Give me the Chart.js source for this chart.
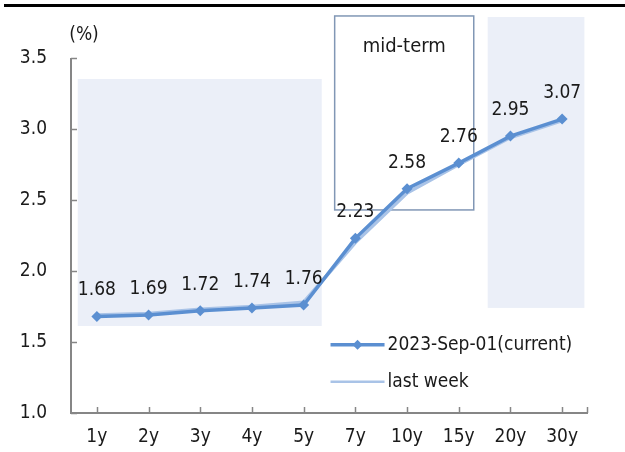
<!DOCTYPE html>
<html>
<head>
<meta charset="utf-8">
<script src="https://cdn.jsdelivr.net/npm/chart.js@4"></script>
<style>
  html, body { margin: 0; padding: 0; background: #fff; }
  #wrap { position: relative; width: 625px; height: 452px; }
  #topline { position: absolute; left: 4px; right: 0; top: 4px; height: 3px; background: #000; }
</style>
</head>
<body>
<div id="wrap">
  <canvas id="c" width="625" height="452"></canvas>
  <div id="topline"></div>
</div>
<script>
const categories = ['1y', '2y', '3y', '4y', '5y', '7y', '10y', '15y', '20y', '30y'];
const currentValues = [1.68, 1.69, 1.72, 1.74, 1.76, 2.23, 2.58, 2.76, 2.95, 3.07];
const lastWeekValues = [1.69, 1.70, 1.73, 1.75, 1.78, 2.20, 2.55, 2.75, 2.94, 3.06];
const currentLabel = '2023-Sep-01(current)';
const lastWeekLabel = 'last week';
const yTicks = [1.0, 1.5, 2.0, 2.5, 3.0, 3.5];
const unitLabel = '(%)';
const boxLabel = 'mid-term';

const FONT = '"DejaVu Sans Condensed", "Liberation Sans", sans-serif';
const TXT = '#1a1a1a';
const AXIS = '#868686';
const C_CUR = '#5B8FD1';
const C_LW = '#A9C3E7';
const SHADE = '#EBEFF8';

const decor = {
  id: 'decor',
  beforeDatasetsDraw(chart) {
    const ctx = chart.ctx, x = chart.scales.x, y = chart.scales.y;
    ctx.save();
    ctx.fillStyle = SHADE;
    let x0 = x.getPixelForValue(-0.37), x1 = x.getPixelForValue(4.35);
    let y0 = y.getPixelForValue(3.352), y1 = y.getPixelForValue(1.613);
    ctx.fillRect(x0, y0, x1 - x0, y1 - y0);
    x0 = x.getPixelForValue(7.56); x1 = x.getPixelForValue(9.43);
    y0 = y.getPixelForValue(3.789); y1 = y.getPixelForValue(1.74);
    ctx.fillRect(x0, y0, x1 - x0, y1 - y0);
    x0 = x.getPixelForValue(4.60); x1 = x.getPixelForValue(7.29);
    y0 = y.getPixelForValue(3.796); y1 = y.getPixelForValue(2.43);
    ctx.strokeStyle = '#8197B5';
    ctx.lineWidth = 1.5;
    ctx.strokeRect(x0, y0, x1 - x0, y1 - y0);
    ctx.fillStyle = TXT;
    ctx.font = '20px ' + FONT;
    ctx.textAlign = 'center';
    ctx.textBaseline = 'middle';
    ctx.fillText(boxLabel, (x0 + x1) / 2, y0 + 31);

    const ca = chart.chartArea;
    ctx.strokeStyle = AXIS;
    ctx.lineWidth = 2;
    ctx.beginPath();
    ctx.moveTo(ca.left, ca.top);
    ctx.lineTo(ca.left, ca.bottom);
    ctx.lineTo(ca.right, ca.bottom);
    ctx.stroke();
    ctx.lineWidth = 1.5;
    ctx.beginPath();
    yTicks.forEach(v => {
      const py = Math.round(y.getPixelForValue(v)) + 0.5;
      ctx.moveTo(ca.left, py); ctx.lineTo(ca.left + 6, py);
    });
    categories.forEach((c, i) => {
      const px = Math.round(x.getPixelForValue(i)) + 0.5;
      ctx.moveTo(px, ca.bottom); ctx.lineTo(px, ca.bottom - 6);
    });
    ctx.moveTo(ca.right - 0.5, ca.bottom); ctx.lineTo(ca.right - 0.5, ca.bottom - 6);
    ctx.stroke();

    ctx.fillStyle = TXT;
    ctx.font = '19px ' + FONT;
    ctx.textAlign = 'center';
    ctx.fillText(unitLabel, ca.left + 13, ca.top - 23);
    ctx.restore();
  },
  afterDatasetsDraw(chart) {
    const ctx = chart.ctx, x = chart.scales.x, y = chart.scales.y;
    ctx.save();
    ctx.fillStyle = TXT;
    ctx.font = '19px ' + FONT;
    ctx.textAlign = 'center';
    ctx.textBaseline = 'middle';
    currentValues.forEach((v, i) => {
      ctx.fillText(v.toFixed(2), x.getPixelForValue(i), y.getPixelForValue(v) - 26);
    });
    const lx0 = x.getPixelForValue(4.52), lx1 = lx0 + 54;
    const ly1 = y.getPixelForValue(1.48), ly2 = y.getPixelForValue(1.22);
    ctx.lineCap = 'butt';
    ctx.strokeStyle = C_CUR; ctx.lineWidth = 3.5;
    ctx.beginPath(); ctx.moveTo(lx0, ly1); ctx.lineTo(lx1, ly1); ctx.stroke();
    ctx.fillStyle = C_CUR;
    const mx = (lx0 + lx1) / 2;
    ctx.beginPath();
    ctx.moveTo(mx, ly1 - 5); ctx.lineTo(mx + 5, ly1); ctx.lineTo(mx, ly1 + 5); ctx.lineTo(mx - 5, ly1);
    ctx.closePath(); ctx.fill();
    ctx.strokeStyle = C_LW; ctx.lineWidth = 2.5;
    ctx.beginPath(); ctx.moveTo(lx0, ly2); ctx.lineTo(lx1, ly2); ctx.stroke();
    ctx.fillStyle = TXT;
    ctx.textAlign = 'left';
    ctx.fillText(currentLabel, lx1 + 3, ly1);
    ctx.fillText(lastWeekLabel, lx1 + 3, ly2);
    ctx.restore();
  }
};

new Chart(document.getElementById('c'), {
  type: 'line',
  data: {
    labels: categories,
    datasets: [
      {
        label: currentLabel,
        data: currentValues,
        borderColor: C_CUR,
        backgroundColor: C_CUR,
        borderWidth: 3.5,
        pointStyle: 'rectRot',
        pointRadius: 5.5,
        pointBackgroundColor: C_CUR,
        pointBorderColor: C_CUR,
        pointBorderWidth: 0,
        tension: 0,
        order: 1
      },
      {
        label: lastWeekLabel,
        data: lastWeekValues,
        borderColor: C_LW,
        backgroundColor: C_LW,
        borderWidth: 3.5,
        pointRadius: 0,
        tension: 0,
        order: 2
      }
    ]
  },
  options: {
    responsive: false,
    animation: false,
    devicePixelRatio: 1,
    layout: { padding: { left: 0, right: 37, top: 58, bottom: 0 } },
    plugins: { legend: { display: false }, tooltip: { enabled: false } },
    scales: {
      x: {
        offset: true,
        grid: { display: false, drawTicks: false },
        border: { display: false },
        ticks: { color: TXT, font: { family: FONT, size: 19 }, padding: 13, maxRotation: 0 },
        afterFit(s) { s.height = 39; }
      },
      y: {
        min: 1.0, max: 3.5,
        grid: { display: false, drawTicks: false },
        border: { display: false },
        ticks: {
          stepSize: 0.5, color: TXT, font: { family: FONT, size: 19 }, padding: 24,
          callback: v => Number(v).toFixed(1)
        },
        afterFit(s) { s.width = 71; }
      }
    }
  },
  plugins: [decor]
});
</script>
</body>
</html>
